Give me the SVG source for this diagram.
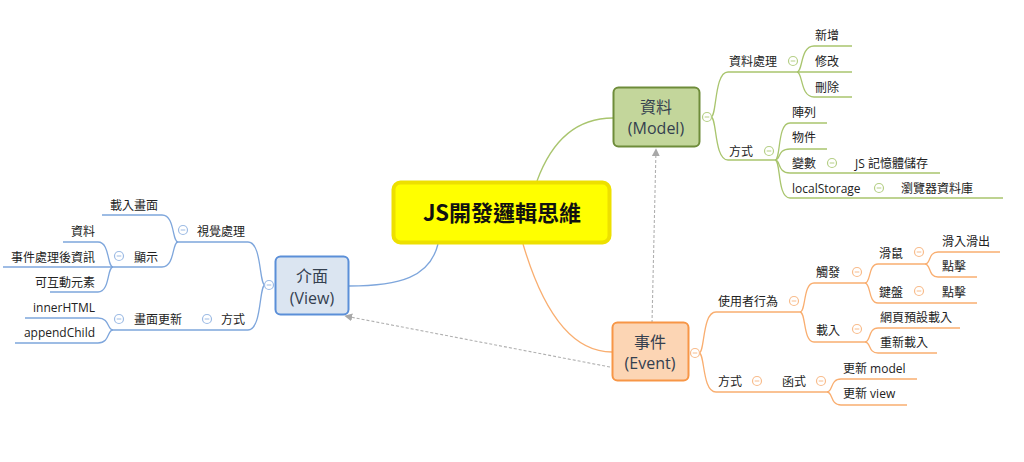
<svg xmlns="http://www.w3.org/2000/svg" width="1024" height="462" viewBox="0 0 1024 462">
<defs>
<style>
text{font-family:"Open Sans","Noto Sans CJK TC",sans-serif;font-size:12px;fill:#222}
.l{text-anchor:end}
.node text{font-size:16px;fill:#34404f;text-anchor:middle}
.g{fill:none;stroke:#a9c56e;stroke-width:1.3}
.o{fill:none;stroke:#f9ae70;stroke-width:1.3}
.b{fill:none;stroke:#7ea6dc;stroke-width:1.3}
.cg{fill:#fff;stroke:#b5cf86;stroke-width:1.2}
.co{fill:#fff;stroke:#f8bc8c;stroke-width:1.2}
.cb{fill:#fff;stroke:#9dbbe4;stroke-width:1.2}
.dash{fill:none;stroke:#b0b0b0;stroke-width:1.1;stroke-dasharray:3 2}
</style>
<marker id="ah" viewBox="0 0 10 10" refX="9" refY="5" markerWidth="8" markerHeight="8" orient="auto" markerUnits="userSpaceOnUse">
<path d="M0,0 L10,5 L0,10 z" fill="#a8a8a8"/>
</marker>
<g id="cm"><circle r="4.5"/><path d="M-2.3,0 H2.3" stroke-width="1"/></g>
</defs>
<rect width="1024" height="462" fill="#fff"/>

<g id="connectors">
<path class="g" d="M537,181 Q560,118 613,118"/>
<path class="o" d="M523,244 Q555,352 612,352"/>
<path class="b" d="M438,244 C430,277 400,286 349,286"/>
<line class="dash" x1="652" y1="323" x2="656" y2="149" marker-end="url(#ah)"/>
<line class="dash" x1="610" y1="367" x2="345" y2="316" marker-end="url(#ah)"/>

<path class="g" d="M711,117 C717,117 714,72 728,72 L797,72"/>
<path class="g" d="M711,117 C717,117 714,160 728,160 L775,160"/>
<path class="g" d="M797,72 C803,72 800,46 814,46 L852,46"/>
<path class="g" d="M797,72 L852,72"/>
<path class="g" d="M797,72 C803,72 800,97 814,97 L852,97"/>
<path class="g" d="M775,160 C781,160 777,123 790,123 L827,123"/>
<path class="g" d="M775,160 C781,160 777,149 790,149 L827,149"/>
<path class="g" d="M775,160 C781,160 777,173 790,173 L940,173"/>
<path class="g" d="M775,160 C781,160 777,198 790,198 L1003,198"/>

<path class="o" d="M699,353 C705,353 702,312 716,312 L800,312"/>
<path class="o" d="M699,353 C705,353 702,392 716,392 L827,392"/>
<path class="o" d="M800,312 C806,312 803,283 814,283 L865,283"/>
<path class="o" d="M800,312 C806,312 803,342 814,342 L865,342"/>
<path class="o" d="M865,283 C871,283 868,264 878,264 L925,264"/>
<path class="o" d="M865,283 C871,283 868,303 878,303 L977,303"/>
<path class="o" d="M925,264 C931,264 928,252 938,252 L1000,252"/>
<path class="o" d="M925,264 C931,264 928,277 938,277 L977,277"/>
<path class="o" d="M865,342 C871,342 868,328 878,328 L960,328"/>
<path class="o" d="M865,342 C871,342 868,353 878,353 L937,353"/>
<path class="o" d="M827,392 C833,392 830,379 841,379 L917,379"/>
<path class="o" d="M827,392 C833,392 830,405 841,405 L907,405"/>

<path class="b" d="M265,285 C259,285 262,242 248,242 L178,242"/>
<path class="b" d="M265,285 C259,285 262,330 248,330 L113,330"/>
<path class="b" d="M178,242 C172,242 175,215 162,215 L102,215"/>
<path class="b" d="M178,242 C172,242 175,267 162,267 L113,267"/>
<path class="b" d="M113,267 C107,267 110,242 98,242 L63,242"/>
<path class="b" d="M113,267 L3,267"/>
<path class="b" d="M113,267 C107,267 110,292 98,292 L50,292"/>
<path class="b" d="M113,330 C107,330 110,318 98,318 L25,318"/>
<path class="b" d="M113,330 C107,330 110,343 98,343 L15,343"/>
</g>

<g id="center">
<rect x="393.5" y="182.5" width="216" height="60" rx="7" fill="#ffff00" stroke="#ede000" stroke-width="4"/>
<text x="502" y="221" style="font-size:22px;font-weight:bold;fill:#111;text-anchor:middle;font-family:'Noto Sans CJK TC','Open Sans',sans-serif">JS開發邏輯思維</text>
</g>

<g id="model" class="node">
<rect x="613.5" y="87.5" width="86" height="59" rx="5" fill="#c3d69b" stroke="#6e8c3a" stroke-width="2"/>
<text x="656" y="113">資料</text>
<text x="656" y="134">(Model)</text>
<use href="#cm" x="707" y="117" class="cg"/>
</g>

<g id="event" class="node">
<rect x="612.5" y="322.5" width="76" height="58" rx="5" fill="#fcd5b4" stroke="#f79646" stroke-width="2"/>
<text x="650" y="348">事件</text>
<text x="650" y="369">(Event)</text>
<use href="#cm" x="695" y="353" class="co"/>
</g>

<g id="view" class="node">
<rect x="275.5" y="256.5" width="73" height="58" rx="5" fill="#dbe5f1" stroke="#5b8fd8" stroke-width="2"/>
<text x="312" y="282">介面</text>
<text x="312" y="304">(View)</text>
<use href="#cm" x="269" y="285" class="cb"/>
</g>

<g id="model-branches">
<text x="729" y="66">資料處理</text><use href="#cm" x="793" y="61" class="cg"/>
<text x="815" y="40">新增</text>
<text x="815" y="66">修改</text>
<text x="815" y="92">刪除</text>
<text x="729" y="156">方式</text><use href="#cm" x="769" y="151" class="cg"/>
<text x="792" y="117">陣列</text>
<text x="792" y="142">物件</text>
<text x="792" y="168">變數</text><use href="#cm" x="832" y="163" class="cg"/>
<text x="855" y="168">JS 記憶體儲存</text>
<text x="792" y="193">localStorage</text><use href="#cm" x="879" y="188" class="cg"/>
<text x="901" y="193">瀏覽器資料庫</text>
</g>

<g id="event-branches">
<text x="718" y="306">使用者行為</text><use href="#cm" x="794" y="301" class="co"/>
<text x="816" y="277">觸發</text><use href="#cm" x="857" y="272" class="co"/>
<text x="879" y="258">滑鼠</text><use href="#cm" x="919" y="252" class="co"/>
<text x="942" y="246">滑入滑出</text>
<text x="942" y="271">點擊</text>
<text x="879" y="297">鍵盤</text><use href="#cm" x="919" y="291" class="co"/>
<text x="942" y="297">點擊</text>
<text x="816" y="335">載入</text><use href="#cm" x="857" y="329" class="co"/>
<text x="880" y="322">網頁預設載入</text>
<text x="880" y="347">重新載入</text>
<text x="718" y="386">方式</text><use href="#cm" x="757" y="381" class="co"/>
<text x="782" y="386">函式</text><use href="#cm" x="821" y="381" class="co"/>
<text x="843" y="373">更新 model</text>
<text x="843" y="398">更新 view</text>
</g>

<g id="view-branches">
<text class="l" x="245" y="236">視覺處理</text><use href="#cm" x="183" y="230" class="cb"/>
<text class="l" x="158" y="210">載入畫面</text>
<text class="l" x="158" y="262">顯示</text><use href="#cm" x="119" y="256" class="cb"/>
<text class="l" x="95" y="236">資料</text>
<text class="l" x="95" y="262">事件處理後資訊</text>
<text class="l" x="95" y="287">可互動元素</text>
<text class="l" x="245" y="324">方式</text><use href="#cm" x="207" y="319" class="cb"/>
<text class="l" x="182" y="324">畫面更新</text><use href="#cm" x="119" y="319" class="cb"/>
<text class="l" x="95" y="312">innerHTML</text>
<text class="l" x="95" y="337">appendChild</text>
</g>
</svg>
